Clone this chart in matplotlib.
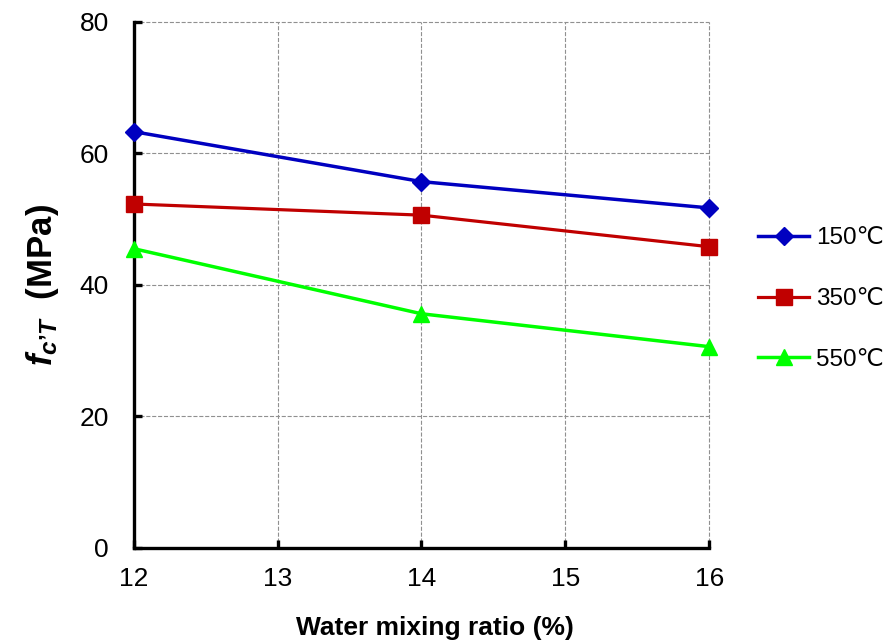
import matplotlib.pyplot as plt

plt.rcParams['font.family'] = ['Liberation Sans', 'DejaVu Sans']
plt.rcParams['mathtext.fontset'] = 'custom'
plt.rcParams['mathtext.it'] = 'Liberation Sans:bold:italic'
plt.rcParams['mathtext.rm'] = 'Liberation Sans:bold'

ratio = [12, 14, 16]
f_150 = [63.3, 55.7, 51.7]
f_350 = [52.3, 50.6, 45.8]
f_550 = [45.5, 35.6, 30.6]
labels = ['150\u2103', '350\u2103', '550\u2103']

fig = plt.figure(figsize=(8.92, 6.43), dpi=100)
ax = fig.add_axes([0.150, 0.148, 0.645, 0.818])

ax.plot(ratio, f_150, '-D', color='#0000C0', lw=2.5, ms=8.7, label=labels[0], clip_on=False, zorder=3)
ax.plot(ratio, f_350, '-s', color='#C00000', lw=2.3, ms=11, label=labels[1], clip_on=False, zorder=3)
ax.plot(ratio, f_550, '-^', color='#00FF00', lw=2.5, ms=12, label=labels[2], clip_on=False, zorder=3)

ax.set_xlim(12, 16)
ax.set_ylim(0, 80)
ax.set_xticks([12, 13, 14, 15, 16])
ax.set_yticks([0, 20, 40, 60, 80])
ax.grid(True, color='#909090', ls='--', lw=0.8)
ax.set_axisbelow(True)
for line in ax.xaxis.get_gridlines() + ax.yaxis.get_gridlines():
    line.set_clip_on(False)
for s in ['top', 'right']:
    ax.spines[s].set_visible(False)
for s in ['left', 'bottom']:
    ax.spines[s].set_linewidth(2.4)
    ax.spines[s].set_zorder(2.5)
ax.tick_params(direction='in', length=6, width=2.4, labelsize=19)
ax.tick_params(axis='x', pad=14)
ax.tick_params(axis='y', pad=18)

ax.set_xlabel('Water mixing ratio (%)', fontsize=19, fontweight='bold')
ax.xaxis.set_label_coords(0.523, -0.13)
ax.set_ylabel("$f_{c\u2019T}$  (MPa)", fontsize=25, fontweight='bold', labelpad=13)

ax.legend(loc='center left', bbox_to_anchor=(1.085, 0.473), frameon=False,
          borderpad=0, borderaxespad=0,
          fontsize=17.5, handlelength=2.1, handletextpad=0.3, labelspacing=1.6)

fig.savefig('out.png', dpi=100)
